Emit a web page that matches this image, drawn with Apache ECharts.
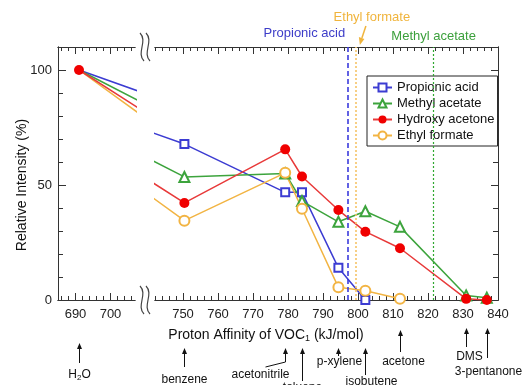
<!DOCTYPE html>
<html>
<head>
<meta charset="utf-8">
<script src="https://cdn.jsdelivr.net/npm/echarts@6/dist/echarts.min.js"></script>
<style>
  html, body { margin: 0; padding: 0; background: #fff; }
  #main { width: 529px; height: 385px; }
</style>
</head>
<body>
<div id="main"></div>
<script>
  // proton affinity (kJ/mol) of the reagent VOCs
  const compounds = ['H2O', 'benzene', 'acetonitrile', 'toluene', 'p-xylene', 'isobutene', 'acetone', 'DMS', '3-pentanone'];
  const affinity = [691, 750.4, 779.2, 784.0, 794.4, 802.1, 812.0, 830.9, 836.8];

  // relative intensity (%) of each analyte
  const propionicAcid = [100, 67.8, 46.8, 46.8, 14.0, 0, null, null, null];
  const methylAcetate = [100, 53.5, 55.0, 43.0, 34.0, 38.6, 31.8, 2.0, 1.0];
  const hydroxyAcetone = [100, 42.2, 65.5, 53.7, 39.1, 29.7, 22.5, 0.5, 0];
  const ethylFormate = [100, 34.5, 55.3, 39.7, 5.5, 4.0, 0.5, null, null];

  // proton affinity of the analytes (vertical lines)
  const refNames = ['Propionic acid', 'Ethyl formate', 'Methyl acetate'];
  const refAffinity = [797.2, 799.4, 821.6];

  // tick labels
  const majorLeft = [690, 700];
  const majorRight = [750, 760, 770, 780, 790, 800, 810, 820, 830, 840];
  const majorY = [0, 50, 100];
  const leftRange = [685, 707];
  const rightRange = [742, 840];

  const FONT = '"Liberation Sans", Arial, Helvetica, sans-serif';

  function steps(a, b, s) {
    let r = [];
    for (let v = a; v <= b + 1e-9; v += s) r.push(v);
    return r;
  }
  const minorLeft = steps(686, 706, 2);
  const minorRight = steps(742, 840, 2);
  const minorY = steps(0, 100, 10);

  function xAx(grid, rng, pos, ticks, len, labels) {
    return {
      type: 'value', gridIndex: grid, min: rng[0], max: rng[1], position: pos,
      axisLine: { show: true, onZero: false, lineStyle: { color: '#333', width: 1 } },
      axisTick: { show: true, inside: true, length: len, customValues: ticks, lineStyle: { color: '#333', width: 1 } },
      axisLabel: { show: labels, customValues: ticks, fontSize: 13, color: '#222', margin: 8, fontFamily: FONT },
      splitLine: { show: false }
    };
  }
  function yAx(grid, pos, ticks, len, labels) {
    return {
      type: 'value', gridIndex: grid, min: 0, max: 110, position: pos,
      axisLine: { show: true, onZero: false, lineStyle: { color: '#333', width: 1 } },
      axisTick: { show: true, inside: true, length: len, customValues: ticks, lineStyle: { color: '#333' } },
      axisLabel: { show: labels, customValues: ticks, fontSize: 13, color: '#222', margin: 6, fontFamily: FONT },
      splitLine: { show: false }
    };
  }

  const seriesDefs = [
    { name: 'Propionic acid', values: propionicAcid, line: '#3c3cd2', fill: '#3c3cd2', symbol: 'emptyRect', size: 8 },
    { name: 'Methyl acetate', values: methylAcetate, line: '#3da43d', fill: '#3da43d', symbol: 'emptyTriangle', size: 10 },
    { name: 'Hydroxy acetone', values: hydroxyAcetone, line: '#e83a3a', fill: '#f00000', symbol: 'circle', size: 10 },
    { name: 'Ethyl formate', values: ethylFormate, line: '#f2b443', fill: '#f2b443', symbol: 'emptyCircle', size: 10 }
  ];
  const refStyles = [
    { color: '#3b3bdd', width: 1.6, type: [5, 3] },
    { color: '#f5c466', width: 1.6, type: [2, 2] },
    { color: '#2fa82f', width: 1.2, type: [2, 2] }
  ];
  const refOwner = ['Propionic acid', 'Ethyl formate', 'Methyl acetate'];

  let series = [];
  seriesDefs.forEach(function (d) {
    const data = affinity.map(function (x, i) { return [x, d.values[i]]; });
    [0, 1].forEach(function (g) {
      const red = d.name === 'Hydroxy acetone';
      let s = {
        name: d.name, type: 'line', data: data,
        xAxisIndex: g === 0 ? 0 : 4, yAxisIndex: g,
        symbol: d.symbol, symbolSize: d.size, clip: true,
        showSymbol: g === 1 || red,
        lineStyle: { color: d.line, width: 1.5 },
        itemStyle: { color: d.fill, borderWidth: 1.3 },
        emphasis: { disabled: true },
        z: red && g === 0 ? 5 : 2
      };
      const k = refOwner.indexOf(d.name);
      if (g === 1 && k >= 0) {
        s.markLine = {
          silent: true, symbol: 'none', label: { show: false },
          lineStyle: refStyles[k],
          data: [{ xAxis: refAffinity[k] }]
        };
      }
      series.push(s);
    });
  });

  const chart = echarts.init(document.getElementById('main'));
  chart.setOption({
    animation: false,
    backgroundColor: '#fff',
    textStyle: { fontFamily: FONT },
    grid: [
      { left: 58, top: 47, width: 77, height: 253, outerBoundsMode: 'none' },
      { left: 155, top: 47, width: 343, height: 253, outerBoundsMode: 'none' }
    ],
    xAxis: [
      xAx(0, leftRange, 'bottom', majorLeft, 7, true),
      xAx(0, leftRange, 'bottom', minorLeft, 4, false),
      xAx(0, leftRange, 'top', majorLeft, 7, false),
      xAx(0, leftRange, 'top', minorLeft, 4, false),
      xAx(1, rightRange, 'bottom', majorRight, 7, true),
      xAx(1, rightRange, 'bottom', minorRight, 4, false),
      xAx(1, rightRange, 'top', majorRight, 7, false),
      xAx(1, rightRange, 'top', minorRight, 4, false)
    ],
    yAxis: [
      yAx(0, 'left', majorY, 8, true),
      yAx(1, 'right', majorY, 7, false),
      yAx(0, 'left', minorY, 5, false),
      yAx(1, 'right', minorY, 5, false)
    ],
    legend: {
      data: seriesDefs.map(function (d) { return d.name; }),
      orient: 'vertical', left: 367, top: 76,
      itemWidth: 19, itemHeight: 10, itemGap: 3,
      padding: [5, 3, 4, 5],
      backgroundColor: '#fff', borderColor: '#222', borderWidth: 1, borderRadius: 0,
      textStyle: { fontSize: 13, color: '#111', fontFamily: FONT },
      selectedMode: false
    },
    series: series
  });

  // decorations: axis titles, break marks, reference labels and compound arrows
  function px(x, left) {
    return chart.convertToPixel({ xAxisIndex: left ? 0 : 4 }, x);
  }
  function arrow(x, y1, y2, color) {
    return [
      { type: 'line', shape: { x1: x, y1: y1 + 5, x2: x, y2: y2 }, style: { stroke: color, lineWidth: 1 } },
      { type: 'polygon', shape: { points: [[x, y1], [x - 2.5, y1 + 6], [x + 2.5, y1 + 6]] }, style: { fill: color } }
    ];
  }
  function breakMark(cx, cy) {
    return [-3, 3].map(function (dx) {
      const x = cx + dx;
      return {
        type: 'bezierCurve',
        shape: { x1: x - 2, y1: cy - 14, cpx1: x + 6, cpy1: cy - 6, cpx2: x - 6, cpy2: cy + 6, x2: x + 2, y2: cy + 14 },
        style: { stroke: '#444', lineWidth: 1.2, fill: null }
      };
    });
  }

  let g = [];
  g.push({
    type: 'text', x: 266, y: 335,
    style: {
      text: 'Proton Affinity of VOC{s|1} (kJ/mol)', font: '14px ' + FONT, fill: '#111',
      align: 'center', verticalAlign: 'middle',
      rich: { s: { fontSize: 9, padding: [8, 0, 0, 0], fontFamily: FONT, fill: '#111' } }
    }
  });
  g.push({
    type: 'text', x: 22, y: 185, rotation: Math.PI / 2,
    style: { text: 'Relative Intensity (%)', font: '14px ' + FONT, fill: '#111', align: 'center', verticalAlign: 'middle' }
  });
  g = g.concat(breakMark(145, 47), breakMark(145, 300));

  // labels for the analyte lines
  const refColors = ['#3c3cc8', '#f0b43c', '#3ca03c'];
  const refLabelLayout = [
    { align: 'right', dx: -3, y: 33 },
    { align: 'center', dx: 16, y: 17 },
    { align: 'center', dx: 0, y: 36 }
  ];
  refNames.forEach(function (n, k) {
    const x = px(refAffinity[k]);
    g.push({
      type: 'text', x: x + refLabelLayout[k].dx, y: refLabelLayout[k].y,
      style: { text: n, font: '13px ' + FONT, fill: refColors[k], align: refLabelLayout[k].align, verticalAlign: 'middle' }
    });
  });
  const efx = px(refAffinity[1]);
  g.push({ type: 'line', shape: { x1: efx + 10, y1: 26, x2: efx + 6, y2: 38 }, style: { stroke: '#f0b43c', lineWidth: 1.5 } });
  g.push({ type: 'polygon', shape: { points: [[efx + 4, 45], [efx + 3, 37], [efx + 8.5, 39]] }, style: { fill: '#f0b43c' } });

  // compound arrows below the axis: [tip y, foot y, label y, label dx]
  const annLayout = [
    [343, 363, 375, 0],
    [348, 367, 380, 0],
    [348, 362, 375, -25],
    [348, 381, 388, 0],
    [348, 356, 362, 1],
    [348, 375, 382, 6],
    [330, 352, 362, 3],
    [328, 347, 357, 3],
    [328, 358, 372, 1]
  ];
  compounds.forEach(function (c, i) {
    const x = Math.round(px(affinity[i], i === 0)) + 0.5;
    const L = annLayout[i];
    g = g.concat(arrow(x, L[0], L[1], '#111'));
    if (c === 'acetonitrile') {
      g.push({ type: 'line', shape: { x1: x, y1: L[1], x2: x - 20, y2: L[1] + 5 }, style: { stroke: '#111', lineWidth: 1 } });
    }
    g.push({
      type: 'text', x: x + L[3], y: L[2],
      style: {
        text: c === 'H2O' ? 'H{s|2}O' : c, font: '12px ' + FONT, fill: '#111',
        align: 'center', verticalAlign: 'middle',
        rich: { s: { fontSize: 8, padding: [6, 0, 0, 0], fontFamily: FONT, fill: '#111' } }
      }
    });
  });

  chart.setOption({ graphic: g });
</script>
</body>
</html>
